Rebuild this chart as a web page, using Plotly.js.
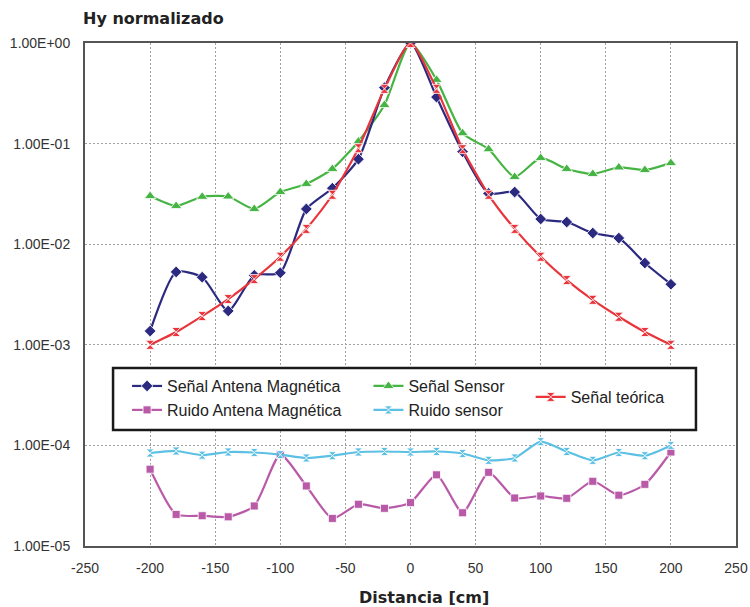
<!DOCTYPE html>
<html>
<head>
<meta charset="utf-8">
<script src="https://cdn.plot.ly/plotly-3.0.1.min.js"></script>
<style>html,body{margin:0;padding:0;background:#fff;}#chart{width:750px;height:607px;}</style>
</head>
<body>
<div id="chart"></div>
<script>
// Distance (cm)
const distancia = [-200,-180,-160,-140,-120,-100,-80,-60,-40,-20,0,20,40,60,80,100,120,140,160,180,200];

const senalAntena = [0.00137,0.0053,0.0047,0.00217,0.0049,0.0052,0.0224,0.036,0.070,0.36,1.0,0.29,0.083,0.032,0.033,0.0178,0.0166,0.0129,0.0115,0.0065,0.0040];
const ruidoAntena = [5.8e-5,2.06e-5,2.0e-5,1.95e-5,2.5e-5,8.1e-5,3.95e-5,1.88e-5,2.6e-5,2.37e-5,2.7e-5,5.1e-5,2.14e-5,5.4e-5,3.0e-5,3.14e-5,2.98e-5,4.4e-5,3.2e-5,4.1e-5,8.6e-5];
const senalSensor = [0.0301,0.024,0.0296,0.0298,0.0224,0.033,0.0397,0.056,0.105,0.242,1.0,0.43,0.127,0.088,0.0466,0.072,0.056,0.0499,0.058,0.0547,0.064];
const ruidoSensor = [8.4e-5,8.8e-5,8.0e-5,8.6e-5,8.5e-5,8.1e-5,7.5e-5,7.9e-5,8.6e-5,8.7e-5,8.6e-5,8.7e-5,8.3e-5,7.1e-5,7.5e-5,1.09e-4,8.7e-5,7.1e-5,8.5e-5,7.9e-5,1.0e-4];
const senalTeorica = [0.0010,0.00134,0.00193,0.00285,0.0045,0.0075,0.0142,0.031,0.090,0.35,1.0,0.35,0.088,0.031,0.0142,0.0075,0.0044,0.0028,0.0019,0.00134,0.0010];

const yTickVals = [1e-5,1e-4,1e-3,1e-2,1e-1,1];
const yTickText = ['1.00E-05','1.00E-04','1.00E-03','1.00E-02','1.00E-01','1.00E+00'];
const xTickVals = [-250,-200,-150,-100,-50,0,50,100,150,200,250];
const xTickText = ['-250','-200','-150','-100','-50','0','50','100','150','200','250'];

const seriesNames = ['Señal Antena Magnética','Ruido Antena Magnética','Señal Sensor','Ruido sensor','Señal teórica'];

function tr(name, y, color, symbol, size, legend) {
  return {
    x: distancia, y: y, name: name, type: 'scatter', mode: 'lines+markers',
    line: {color: color, width: 2.2, shape: 'spline', smoothing: 0.6},
    marker: {color: color, symbol: symbol, size: size, line: {color: 'rgba(255,255,255,0.8)', width: 1}},
    legend: legend
  };
}

const data = [
  tr(seriesNames[1], ruidoAntena, '#b85aa8', 'square', 8, 'legend4'),
  tr(seriesNames[3], ruidoSensor, '#5cc0e4', 'hourglass', 8, 'legend5'),
  tr(seriesNames[2], senalSensor, '#45b442', 'triangle-up', 10, 'legend2'),
  tr(seriesNames[0], senalAntena, '#2b2a80', 'diamond', 9, 'legend'),
  tr(seriesNames[4], senalTeorica, '#e8343a', 'hourglass', 9, 'legend3')
];

const legFont = {family: 'Liberation Sans, Arial, sans-serif', size: 16, color: '#222'};
function leg(x, y) {
  return {x: x, y: y, xanchor: 'left', yanchor: 'middle', bgcolor: 'rgba(0,0,0,0)', borderwidth: 0, font: legFont, itemwidth: 30, tracegroupgap: 0};
}

const gridStyle = {showgrid: true, gridcolor: '#a0a0a0', griddash: '2px,2px', gridwidth: 1};

const layout = {
  width: 750, height: 607,
  margin: {l: 85, r: 14, t: 43, b: 61},
  paper_bgcolor: '#fff', plot_bgcolor: '#fff',
  title: {text: 'Hy normalizado', x: 83/750, xanchor: 'left', xref: 'container', y: 1 - 18/607, yanchor: 'middle', yref: 'container',
          font: {family: 'DejaVu Sans, sans-serif', size: 16, weight: 'bold', color: '#222'}},
  xaxis: Object.assign({
    range: [-250, 250], tickvals: xTickVals, ticktext: xTickText, ticks: '', ticklabelstandoff: 8,
    zeroline: false, showline: true, linecolor: '#555', linewidth: 2, mirror: true,
    tickfont: {family: 'Liberation Sans, Arial, sans-serif', size: 14, color: '#333'}
  }, gridStyle),
  yaxis: Object.assign({
    type: 'log', range: [-5, 0], tickvals: yTickVals, ticktext: yTickText, ticks: '', ticklabelstandoff: 10,
    zeroline: false, showline: true, linecolor: '#555', linewidth: 2, mirror: true,
    tickfont: {family: 'Liberation Sans, Arial, sans-serif', size: 14, color: '#333'}
  }, gridStyle),
  showlegend: true,
  legend: leg(0.0646, 0.318),
  legend4: leg(0.0646, 0.2704),
  legend2: leg(0.4354, 0.318),
  legend5: leg(0.4354, 0.2704),
  legend3: leg(0.6846, 0.2962),
  shapes: [{type: 'rect', xref: 'paper', yref: 'paper', x0: 0.0431, x1: 0.9385, y0: 0.2306, y1: 0.3539,
            line: {color: '#1a1a1a', width: 2.5}, fillcolor: '#fff', layer: 'above'}],
  annotations: [{text: 'Distancia [cm]', xref: 'paper', yref: 'paper', x: 0.52, y: (546-597)/503,
                 xanchor: 'center', yanchor: 'middle', showarrow: false,
                 font: {family: 'DejaVu Sans, sans-serif', size: 16, weight: 'bold', color: '#222'}}]
};

Plotly.newPlot('chart', data, layout, {displayModeBar: false, staticPlot: true});
</script>
</body>
</html>
